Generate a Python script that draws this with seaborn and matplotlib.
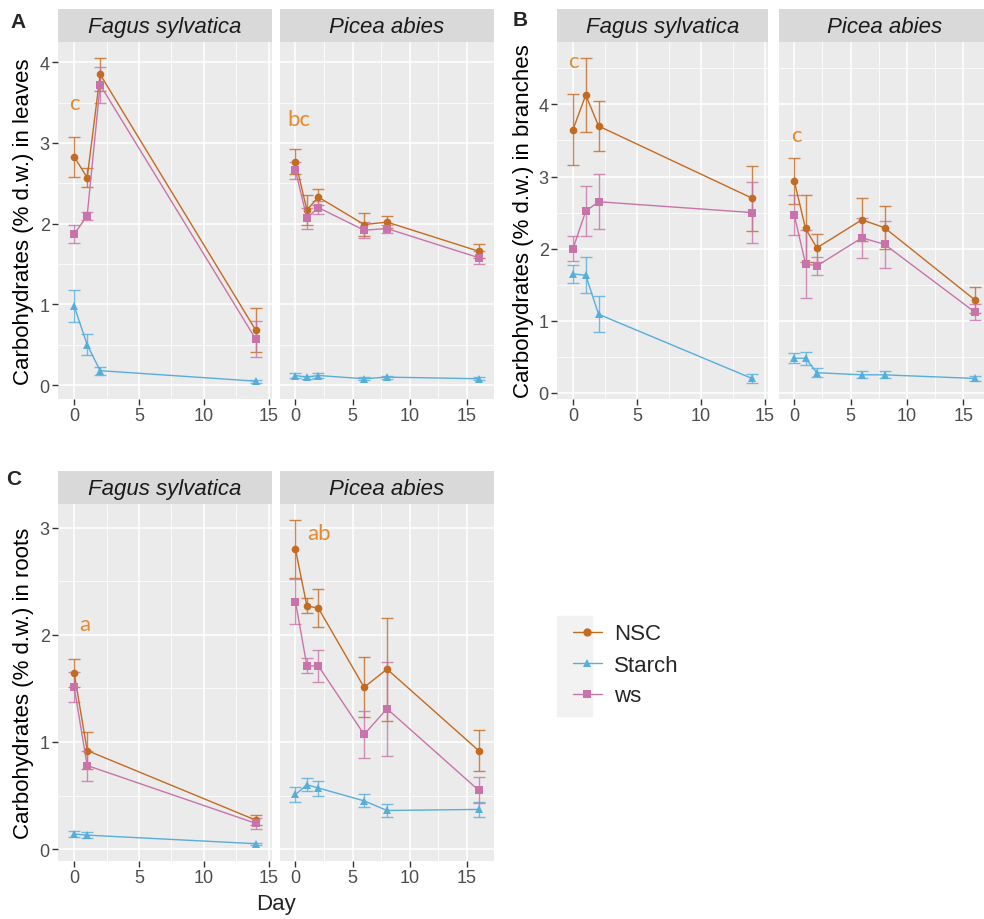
import numpy as np
import pandas as pd
import matplotlib
matplotlib.use("Agg")
import matplotlib.pyplot as plt
import seaborn as sns
from matplotlib.patches import Rectangle
from matplotlib.lines import Line2D
from matplotlib.ticker import MultipleLocator, FixedLocator

sns.set_theme(style="darkgrid")
plt.rcParams["font.family"] = ["Liberation Sans", "DejaVu Sans"]

# ---------------- data ----------------
types = ["NSC", "Starch", "ws"]
species = ["Fagus sylvatica", "Picea abies"]

days_fagus = [0, 1, 2, 14]
days_fagus_roots = [0, 1, 14]
days_picea = [0, 1, 2, 6, 8, 16]

# Leaves (A)
leaves_fagus_nsc = [2.83, 2.57, 3.85, 0.68]
leaves_fagus_nsc_se = [0.25, 0.12, 0.20, 0.27]
leaves_fagus_starch = [0.98, 0.50, 0.18, 0.05]
leaves_fagus_starch_se = [0.20, 0.13, 0.05, 0.02]
leaves_fagus_ws = [1.87, 2.10, 3.72, 0.57]
leaves_fagus_ws_se = [0.11, 0.05, 0.22, 0.22]

leaves_picea_nsc = [2.77, 2.17, 2.33, 1.99, 2.02, 1.66]
leaves_picea_nsc_se = [0.16, 0.18, 0.10, 0.14, 0.07, 0.09]
leaves_picea_starch = [0.12, 0.10, 0.12, 0.08, 0.10, 0.08]
leaves_picea_starch_se = [0.03, 0.02, 0.03, 0.02, 0.02, 0.02]
leaves_picea_ws = [2.66, 2.07, 2.20, 1.92, 1.94, 1.58]
leaves_picea_ws_se = [0.10, 0.13, 0.08, 0.10, 0.05, 0.08]

# Branches (B)
branches_fagus_nsc = [3.65, 4.13, 3.70, 2.70]
branches_fagus_nsc_se = [0.49, 0.51, 0.35, 0.45]
branches_fagus_starch = [1.65, 1.63, 1.09, 0.20]
branches_fagus_starch_se = [0.12, 0.25, 0.25, 0.06]
branches_fagus_ws = [2.00, 2.52, 2.65, 2.50]
branches_fagus_ws_se = [0.17, 0.35, 0.38, 0.42]

branches_picea_nsc = [2.94, 2.28, 2.01, 2.40, 2.29, 1.29]
branches_picea_nsc_se = [0.32, 0.47, 0.19, 0.30, 0.30, 0.18]
branches_picea_starch = [0.48, 0.48, 0.28, 0.25, 0.25, 0.20]
branches_picea_starch_se = [0.07, 0.09, 0.06, 0.05, 0.05, 0.04]
branches_picea_ws = [2.47, 1.79, 1.76, 2.15, 2.06, 1.12]
branches_picea_ws_se = [0.28, 0.47, 0.13, 0.28, 0.33, 0.11]

# Roots (C)
roots_fagus_nsc = [1.64, 0.92, 0.27]
roots_fagus_nsc_se = [0.13, 0.17, 0.05]
roots_fagus_starch = [0.14, 0.13, 0.05]
roots_fagus_starch_se = [0.03, 0.03, 0.01]
roots_fagus_ws = [1.51, 0.78, 0.24]
roots_fagus_ws_se = [0.14, 0.14, 0.05]

roots_picea_nsc = [2.80, 2.27, 2.25, 1.51, 1.68, 0.92]
roots_picea_nsc_se = [0.27, 0.07, 0.18, 0.28, 0.48, 0.19]
roots_picea_starch = [0.51, 0.60, 0.57, 0.45, 0.36, 0.37]
roots_picea_starch_se = [0.07, 0.06, 0.07, 0.06, 0.06, 0.07]
roots_picea_ws = [2.31, 1.71, 1.71, 1.07, 1.31, 0.55]
roots_picea_ws_se = [0.21, 0.07, 0.15, 0.22, 0.44, 0.12]

# significance letters (text, day, value)
letters_leaves = [("c", 0.0, 3.50), ("bc", 0.3, 3.30)]
letters_branches = [("c", 0.0, 4.60), ("c", 0.2, 3.58)]
letters_roots = [("a", 0.8, 2.10), ("ab", 2.1, 2.95)]

ylabels = ["Carbohydrates (% d.w.) in leaves",
           "Carbohydrates (% d.w.) in branches",
           "Carbohydrates (% d.w.) in roots"]

# ---------------- style ----------------
palette = {"NSC": "#C46B22", "Starch": "#56AEDB", "ws": "#C874AA"}
markers = {"NSC": "o", "Starch": "^", "ws": "s"}
letter_color = "#E38B32"

W, H = 984, 920
fig = plt.figure(figsize=(W / 100, H / 100), dpi=100)


def add_ax(x0, x1, y0, y1):
    return fig.add_axes([x0 / W, 1 - y1 / H, (x1 - x0) / W, (y1 - y0) / H])


def make_df(days, nsc, nsc_se, st, st_se, ws, ws_se):
    rows = []
    for t, v, s in (("NSC", nsc, nsc_se), ("Starch", st, st_se), ("ws", ws, ws_se)):
        for d, vv, ss in zip(days, v, s):
            rows.append({"Day": d, "value": vv, "se": ss, "type": t})
    return pd.DataFrame(rows)


panels = [
    (0, 0, make_df(days_fagus, leaves_fagus_nsc, leaves_fagus_nsc_se, leaves_fagus_starch,
                   leaves_fagus_starch_se, leaves_fagus_ws, leaves_fagus_ws_se),
     letters_leaves[0], (58, 272), (43, 400)),
    (0, 1, make_df(days_picea, leaves_picea_nsc, leaves_picea_nsc_se, leaves_picea_starch,
                   leaves_picea_starch_se, leaves_picea_ws, leaves_picea_ws_se),
     letters_leaves[1], (280, 494), (43, 400)),
    (1, 0, make_df(days_fagus, branches_fagus_nsc, branches_fagus_nsc_se, branches_fagus_starch,
                   branches_fagus_starch_se, branches_fagus_ws, branches_fagus_ws_se),
     letters_branches[0], (557, 768), (43, 400)),
    (1, 1, make_df(days_picea, branches_picea_nsc, branches_picea_nsc_se, branches_picea_starch,
                   branches_picea_starch_se, branches_picea_ws, branches_picea_ws_se),
     letters_branches[1], (779, 990), (43, 400)),
    (2, 0, make_df(days_fagus_roots, roots_fagus_nsc, roots_fagus_nsc_se, roots_fagus_starch,
                   roots_fagus_starch_se, roots_fagus_ws, roots_fagus_ws_se),
     letters_roots[0], (58, 272), (505, 862)),
    (2, 1, make_df(days_picea, roots_picea_nsc, roots_picea_nsc_se, roots_picea_starch,
                   roots_picea_starch_se, roots_picea_ws, roots_picea_ws_se),
     letters_roots[1], (280, 494), (505, 862)),
]

# shared y range per organ (ggplot-like: error bar extents + letters, 5% expansion)
ylims = {}
for org in range(3):
    lo, hi = np.inf, -np.inf
    for o, s, df, let, _, _ in panels:
        if o != org:
            continue
        lo = min(lo, (df["value"] - df["se"]).min(), let[2])
        hi = max(hi, (df["value"] + df["se"]).max(), let[2])
    pad = (hi - lo) * 0.05
    ylims[org] = (lo - pad, hi + pad)

for org, sp, df, let, (x0, x1), (y0, y1) in panels:
    ax = add_ax(x0, x1, y0, y1)
    ax.set_facecolor("#EBEBEB")
    dmin, dmax = df["Day"].min() - 0.5, df["Day"].max() + 0.5
    xpad = (dmax - dmin) * 0.05
    ax.set_xlim(dmin - xpad, dmax + xpad)
    ax.set_ylim(*ylims[org])
    px_per_day = (x1 - x0) / (dmax - dmin + 2 * xpad)
    cap = 0.5 * px_per_day * 0.72

    for t in types:
        d = df[df["type"] == t]
        ax.errorbar(d["Day"], d["value"], yerr=d["se"], fmt="none",
                    ecolor=palette[t], elinewidth=1.0, capsize=cap, capthick=1.0,
                    alpha=0.8, zorder=3)
    sns.lineplot(data=df, x="Day", y="value", hue="type", style="type",
                 hue_order=types, style_order=types, palette=palette,
                 markers=markers, dashes=False, markersize=5.5,
                 markeredgewidth=0, linewidth=1.0, errorbar=None,
                 legend=False, ax=ax, zorder=4)

    ax.text(let[1], let[2], let[0], color=letter_color, fontsize=16,
            ha="center", va="center", family=["Lato", "DejaVu Sans"])

    ax.xaxis.set_major_locator(FixedLocator([0, 5, 10, 15]))
    ax.xaxis.set_minor_locator(MultipleLocator(2.5))
    ax.yaxis.set_major_locator(MultipleLocator(1))
    ax.yaxis.set_minor_locator(MultipleLocator(0.5))
    ax.grid(which="major", color="white", linewidth=1.1)
    ax.grid(which="minor", color="white", linewidth=0.55)
    for s in ax.spines.values():
        s.set_visible(False)
    ax.tick_params(which="major", length=4, width=1, color="#333333",
                   labelsize=13, labelcolor="#4D4D4D", pad=2,
                   bottom=True, left=(sp == 0))
    ax.tick_params(which="minor", length=0)
    ax.set_xlabel("")
    if sp == 0:
        ax.set_ylabel(ylabels[org], fontsize=16, color="black")
        ax.yaxis.set_label_coords(-0.11, 0.5)
    else:
        ax.set_ylabel("")
        ax.set_yticklabels([])

    sx = add_ax(x0, x1, y0 - 33, y0)
    sx.set_facecolor("#D9D9D9")
    sx.set_xticks([])
    sx.set_yticks([])
    for s in sx.spines.values():
        s.set_visible(False)
    sx.text(0.5, 0.48, species[sp], transform=sx.transAxes, ha="center",
            va="center", fontsize=16, style="italic", color="#1A1A1A")

fig.text(18 / W, 1 - 22 / H, "A", fontsize=15, fontweight="bold", ha="center", va="center")
fig.text(520 / W, 1 - 20 / H, "B", fontsize=15, fontweight="bold", ha="center", va="center")
fig.text(14 / W, 1 - 480 / H, "C", fontsize=15, fontweight="bold", ha="center", va="center")

fig.text(276 / W, 1 - 905 / H, "Day", fontsize=16, ha="center", va="center")

fig.patches.append(Rectangle((557 / W, 1 - 717 / H), 35 / W, 100 / H,
                             transform=fig.transFigure, color="#F2F2F2", zorder=0))
handles = [Line2D([0], [0], color=palette[t], marker=markers[t], lw=1.0, ms=6,
                  markeredgewidth=0) for t in types]
fig.legend(handles, types, loc="center left", bbox_to_anchor=(553 / W, 1 - 666 / H),
           frameon=False, fontsize=16, handlelength=1.3, labelspacing=0.45,
           handletextpad=0.55)

fig.savefig("out.png", dpi=100)
